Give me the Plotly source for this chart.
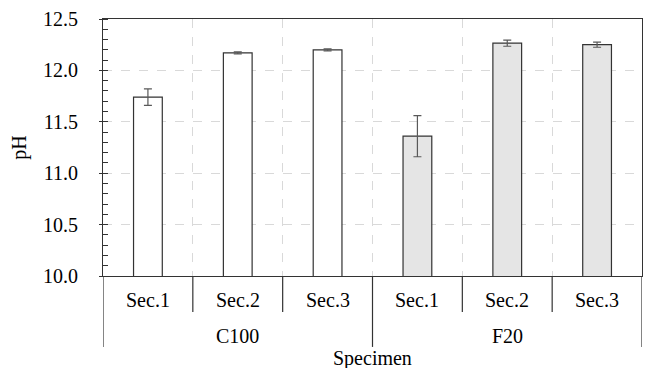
import plotly.graph_objects as go

groups = ["C100", "C100", "C100", "F20", "F20", "F20"]
sections = ["Sec.1", "Sec.2", "Sec.3", "Sec.1", "Sec.2", "Sec.3"]
ph_values = [11.74, 12.17, 12.20, 11.36, 12.265, 12.25]
ph_errors = [0.08, 0.01, 0.01, 0.20, 0.03, 0.025]
group_names = ["C100", "F20"]
group_fill = {"C100": "#ffffff", "F20": "#e5e5e5"}

cats = [f"{g} {s}" for g, s in zip(groups, sections)]
font = "'Times New Roman', 'Liberation Serif', 'DejaVu Serif', serif"
fs = 20
axis_col = "#333333"

fig = go.Figure()
fig.add_trace(go.Bar(
    x=cats, y=ph_values, width=0.32,
    marker=dict(color=[group_fill[g] for g in groups],
                line=dict(color="#333333", width=1.2)),
    error_y=dict(type="data", array=ph_errors, color="#595959",
                 thickness=1.2, width=4),
    showlegend=False,
))

for c, s in zip(cats, sections):
    fig.add_annotation(x=c, y=-0.093, xref="x", yref="paper", text=s,
                       showarrow=False, font=dict(family=font, size=fs, color="#000"),
                       yanchor="middle")
for i in range(len(cats) + 1):
    is_group = i in (0, 3, 6)
    fig.add_shape(type="line", xref="x", yref="paper",
                  x0=i - 0.5, x1=i - 0.5, y0=0, y1=-0.276 if is_group else -0.14,
                  line=dict(color=axis_col, width=1.2))
for g in group_names:
    idx = [i for i, gg in enumerate(groups) if gg == g]
    center = (idx[0] + idx[-1]) / 2
    fig.add_annotation(x=center, y=-0.233, xref="x", yref="paper", text=g,
                       showarrow=False, font=dict(family=font, size=fs, color="#000"),
                       yanchor="middle")
fig.add_annotation(x=0.5, y=-0.322, xref="paper", yref="paper", text="Specimen",
                   showarrow=False, font=dict(family=font, size=fs, color="#000"),
                   yanchor="middle")

fig.update_layout(
    width=645, height=368,
    margin=dict(l=103, r=3, t=19, b=92),
    paper_bgcolor="white", plot_bgcolor="white",
    font=dict(family=font, size=fs, color="#000"),
)
fig.update_xaxes(
    type="category", showticklabels=False, ticks="",
    tickson="boundaries", showgrid=True, gridcolor="#d9d9d9", griddash="dash",
    gridwidth=1, showline=True, linecolor=axis_col, linewidth=1.2, mirror=True,
    range=[-0.5, 5.5], zeroline=False,
)
fig.update_yaxes(
    range=[10.0, 12.5], tick0=10.0, dtick=0.5, tickformat=".1f",
    showgrid=True, gridcolor="#d9d9d9", griddash="dash", gridwidth=1,
    showline=True, linecolor=axis_col, linewidth=1.2, mirror=True,
    ticks="outside", ticklen=3, tickwidth=1.2, tickcolor=axis_col,
    ticklabelstandoff=17,
    minor=dict(dtick=0.1, ticks="inside", ticklen=5, tickwidth=1, tickcolor=axis_col, showgrid=False),
    title=dict(text="pH", font=dict(family=font, size=fs), standoff=10),
    tickfont=dict(family=font, size=fs),
    zeroline=False,
)
fig.write_html("out.html")
